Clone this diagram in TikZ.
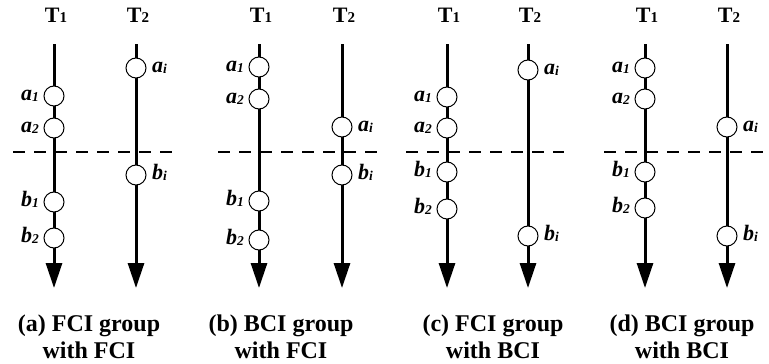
\documentclass[tikz,border=0pt]{standalone}
\usepackage{fontspec}
\setmainfont{Liberation Serif}
\usetikzlibrary{arrows.meta}
\newcommand\evlab[2]{#1\raisebox{-1pt}{\fontsize{13.5}{13.5}\selectfont #2}}
\newcommand\thlab[1]{T{\fontsize{15}{15}\selectfont #1}}
\tikzset{
  ev/.style={circle,draw,line width=1pt,fill=white,minimum size=20pt,inner sep=0pt},
  tline/.style={line width=3pt,-{Triangle[length=25pt,width=16pt]}},
  sepline/.style={line width=1.8pt,dash pattern=on 12pt off 9pt},
  llab/.style={anchor=base east,inner sep=0pt,font=\fontsize{22}{22}\selectfont\bfseries\itshape},
  rlab/.style={anchor=base west,inner sep=0pt,font=\fontsize{22}{22}\selectfont\bfseries\itshape},
  thead/.style={anchor=base,inner sep=0pt,font=\fontsize{22}{22}\selectfont\bfseries},
  capt/.style={anchor=base,inner sep=0pt,font=\fontsize{24}{27}\selectfont\bfseries}
}
\begin{document}
\begin{tikzpicture}[x=1pt,y=-1pt]
\useasboundingbox (0,0) rectangle (769,364);
\foreach \p/\xa/\xb/\ya/\yb/\yc/\yd/\ye/\yf/\cx/\ca/\cb in {
  a/54/136/96/128/202/238/68/175/89/{(a) FCI group}/{with FCI},
  b/259/342/67/99/201/240/127/175/281/{(b) BCI group}/{with FCI},
  c/447/528/97/128/172/209/70/236/493/{(c) FCI group}/{with BCI},
  d/645/727/68/99/172/208/127/236/682/{(d) BCI group}/{with BCI}}{
  \coordinate (\p-d1) at (\xa-41,152);
  \coordinate (\p-d2) at (\xb+36,152);
  \draw[sepline] (\p-d1) -- (\p-d2);
  \coordinate (\p-s1) at (\xa,44);
  \coordinate (\p-e1) at (\xa,288);
  \coordinate (\p-s2) at (\xb,44);
  \coordinate (\p-e2) at (\xb,288);
  \draw[tline] (\p-s1) -- (\p-e1);
  \draw[tline] (\p-s2) -- (\p-e2);
  \node[thead] (\p-t1) at (\xa+2,22) {\thlab{1}};
  \node[thead] (\p-t2) at (\xb+2,22) {\thlab{2}};
  \node[ev] (\p-a1) at (\xa,\ya) {};
  \node[ev] (\p-a2) at (\xa,\yb) {};
  \node[ev] (\p-b1) at (\xa,\yc) {};
  \node[ev] (\p-b2) at (\xa,\yd) {};
  \node[ev] (\p-ai) at (\xb,\ye) {};
  \node[ev] (\p-bi) at (\xb,\yf) {};
  \node[llab] (\p-la1) at (\xa-15,\ya+4.5) {\evlab{a}{1}};
  \node[llab] (\p-la2) at (\xa-15,\yb+4.5) {\evlab{a}{2}};
  \node[llab] (\p-lb1) at (\xa-15,\yc+4.5) {\evlab{b}{1}};
  \node[llab] (\p-lb2) at (\xa-15,\yd+4.5) {\evlab{b}{2}};
  \node[rlab] (\p-lai) at (\xb+16,\ye+4.5) {\evlab{a}{i}};
  \node[rlab] (\p-lbi) at (\xb+16,\yf+4.5) {\evlab{b}{i}};
  \node[capt] (\p-c1) at (\cx,331) {\ca};
  \node[capt] (\p-c2) at (\cx,358) {\cb};
}
\end{tikzpicture}
\end{document}
